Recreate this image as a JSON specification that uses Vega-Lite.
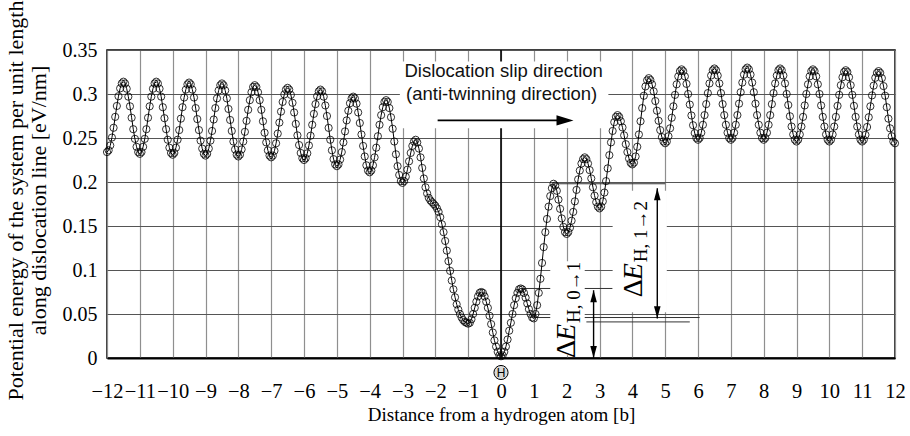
{
  "$schema": "https://vega.github.io/schema/vega-lite/v6.json",
  "width": 788,
  "height": 308,
  "autosize": "none",
  "padding": {"left": 107, "top": 50, "right": 15, "bottom": 78},
  "config": {
    "view": {"stroke": "black", "strokeWidth": 1.5},
    "axis": {"labelFont": "Liberation Serif", "titleFont": "Liberation Serif", "labelColor": "black", "titleColor": "black", "titleFontWeight": "normal"}
  },
  "datasets": {
    "curve": [
      {"x":-12,"y":0.234},{"x":-11.95,"y":0.236},{"x":-11.9,"y":0.2416},{"x":-11.85,"y":0.2505},{"x":-11.8,"y":0.2616},{"x":-11.75,"y":0.274},{"x":-11.7,"y":0.2864},{"x":-11.65,"y":0.2975},{"x":-11.6,"y":0.3064},{"x":-11.55,"y":0.312},
      {"x":-11.5,"y":0.314},{"x":-11.45,"y":0.312},{"x":-11.4,"y":0.306},{"x":-11.35,"y":0.297},{"x":-11.3,"y":0.286},{"x":-11.25,"y":0.273},{"x":-11.2,"y":0.26},{"x":-11.15,"y":0.249},{"x":-11.1,"y":0.24},{"x":-11.05,"y":0.234},
      {"x":-11,"y":0.232},{"x":-10.95,"y":0.234},{"x":-10.9,"y":0.24},{"x":-10.85,"y":0.249},{"x":-10.8,"y":0.26},{"x":-10.75,"y":0.273},{"x":-10.7,"y":0.286},{"x":-10.65,"y":0.297},{"x":-10.6,"y":0.306},{"x":-10.55,"y":0.312},
      {"x":-10.5,"y":0.314},{"x":-10.45,"y":0.312},{"x":-10.4,"y":0.306},{"x":-10.35,"y":0.297},{"x":-10.3,"y":0.285},{"x":-10.25,"y":0.2725},{"x":-10.2,"y":0.26},{"x":-10.15,"y":0.248},{"x":-10.1,"y":0.239},{"x":-10.05,"y":0.233},
      {"x":-10,"y":0.231},{"x":-9.95,"y":0.233},{"x":-9.9,"y":0.239},{"x":-9.85,"y":0.248},{"x":-9.8,"y":0.259},{"x":-9.75,"y":0.272},{"x":-9.7,"y":0.285},{"x":-9.65,"y":0.296},{"x":-9.6,"y":0.305},{"x":-9.55,"y":0.311},
      {"x":-9.5,"y":0.313},{"x":-9.45,"y":0.311},{"x":-9.4,"y":0.305},{"x":-9.35,"y":0.296},{"x":-9.3,"y":0.284},{"x":-9.25,"y":0.2715},{"x":-9.2,"y":0.259},{"x":-9.15,"y":0.247},{"x":-9.1,"y":0.238},{"x":-9.05,"y":0.232},
      {"x":-9,"y":0.23},{"x":-8.95,"y":0.232},{"x":-8.9,"y":0.238},{"x":-8.85,"y":0.247},{"x":-8.8,"y":0.258},{"x":-8.75,"y":0.271},{"x":-8.7,"y":0.284},{"x":-8.65,"y":0.295},{"x":-8.6,"y":0.304},{"x":-8.55,"y":0.31},
      {"x":-8.5,"y":0.312},{"x":-8.45,"y":0.31},{"x":-8.4,"y":0.304},{"x":-8.35,"y":0.295},{"x":-8.3,"y":0.283},{"x":-8.25,"y":0.2705},{"x":-8.2,"y":0.258},{"x":-8.15,"y":0.246},{"x":-8.1,"y":0.237},{"x":-8.05,"y":0.231},
      {"x":-8,"y":0.229},{"x":-7.95,"y":0.231},{"x":-7.9,"y":0.237},{"x":-7.85,"y":0.246},{"x":-7.8,"y":0.257},{"x":-7.75,"y":0.2695},{"x":-7.7,"y":0.282},{"x":-7.65,"y":0.293},{"x":-7.6,"y":0.302},{"x":-7.55,"y":0.308},
      {"x":-7.5,"y":0.31},{"x":-7.45,"y":0.308},{"x":-7.4,"y":0.302},{"x":-7.35,"y":0.293},{"x":-7.3,"y":0.282},{"x":-7.25,"y":0.269},{"x":-7.2,"y":0.256},{"x":-7.15,"y":0.245},{"x":-7.1,"y":0.236},{"x":-7.05,"y":0.23},
      {"x":-7,"y":0.228},{"x":-6.95,"y":0.23},{"x":-6.9,"y":0.2355},{"x":-6.85,"y":0.244},{"x":-6.8,"y":0.255},{"x":-6.75,"y":0.2675},{"x":-6.7,"y":0.28},{"x":-6.65,"y":0.291},{"x":-6.6,"y":0.2995},{"x":-6.55,"y":0.305},
      {"x":-6.5,"y":0.307},{"x":-6.45,"y":0.305},{"x":-6.4,"y":0.299},{"x":-6.35,"y":0.29},{"x":-6.3,"y":0.279},{"x":-6.25,"y":0.266},{"x":-6.2,"y":0.253},{"x":-6.15,"y":0.242},{"x":-6.1,"y":0.233},{"x":-6.05,"y":0.227},
      {"x":-6,"y":0.225},{"x":-5.95,"y":0.227},{"x":-5.9,"y":0.2326},{"x":-5.85,"y":0.2415},{"x":-5.8,"y":0.2526},{"x":-5.75,"y":0.265},{"x":-5.7,"y":0.2774},{"x":-5.65,"y":0.2885},{"x":-5.6,"y":0.2974},{"x":-5.55,"y":0.303},
      {"x":-5.5,"y":0.305},{"x":-5.45,"y":0.303},{"x":-5.4,"y":0.297},{"x":-5.35,"y":0.287},{"x":-5.3,"y":0.275},{"x":-5.25,"y":0.2615},{"x":-5.2,"y":0.248},{"x":-5.15,"y":0.236},{"x":-5.1,"y":0.226},{"x":-5.05,"y":0.22},
      {"x":-5,"y":0.218},{"x":-4.95,"y":0.22},{"x":-4.9,"y":0.2255},{"x":-4.85,"y":0.234},{"x":-4.8,"y":0.245},{"x":-4.75,"y":0.2575},{"x":-4.7,"y":0.27},{"x":-4.65,"y":0.281},{"x":-4.6,"y":0.2895},{"x":-4.55,"y":0.295},
      {"x":-4.5,"y":0.297},{"x":-4.45,"y":0.295},{"x":-4.4,"y":0.289},{"x":-4.35,"y":0.279},{"x":-4.3,"y":0.267},{"x":-4.25,"y":0.254},{"x":-4.2,"y":0.241},{"x":-4.15,"y":0.229},{"x":-4.1,"y":0.219},{"x":-4.05,"y":0.213},
      {"x":-4,"y":0.211},{"x":-3.95,"y":0.213},{"x":-3.9,"y":0.219},{"x":-3.85,"y":0.228},{"x":-3.8,"y":0.239},{"x":-3.75,"y":0.252},{"x":-3.7,"y":0.265},{"x":-3.65,"y":0.276},{"x":-3.6,"y":0.285},{"x":-3.55,"y":0.291},
      {"x":-3.5,"y":0.293},{"x":-3.45,"y":0.291},{"x":-3.4,"y":0.284},{"x":-3.35,"y":0.2736},{"x":-3.3,"y":0.2605},{"x":-3.25,"y":0.246},{"x":-3.2,"y":0.2315},{"x":-3.15,"y":0.218},{"x":-3.1,"y":0.208},{"x":-3.05,"y":0.201},
      {"x":-3,"y":0.199},{"x":-2.95,"y":0.201},{"x":-2.9,"y":0.206},{"x":-2.85,"y":0.214},{"x":-2.8,"y":0.2235},{"x":-2.75,"y":0.233},{"x":-2.7,"y":0.241},{"x":-2.65,"y":0.246},{"x":-2.6,"y":0.248},{"x":-2.55,"y":0.245},
      {"x":-2.5,"y":0.238},{"x":-2.45,"y":0.228},{"x":-2.4,"y":0.216},{"x":-2.35,"y":0.204},{"x":-2.3,"y":0.194},{"x":-2.25,"y":0.187},{"x":-2.2,"y":0.182},{"x":-2.15,"y":0.179},{"x":-2.1,"y":0.177},{"x":-2.05,"y":0.175},
      {"x":-2,"y":0.173},{"x":-1.95,"y":0.17},{"x":-1.9,"y":0.166},{"x":-1.85,"y":0.16},{"x":-1.8,"y":0.152},{"x":-1.75,"y":0.143},{"x":-1.7,"y":0.133},{"x":-1.65,"y":0.122},{"x":-1.6,"y":0.11},{"x":-1.55,"y":0.099},
      {"x":-1.5,"y":0.088},{"x":-1.45,"y":0.078},{"x":-1.4,"y":0.069},{"x":-1.35,"y":0.061},{"x":-1.3,"y":0.055},{"x":-1.25,"y":0.05},{"x":-1.2,"y":0.046},{"x":-1.15,"y":0.043},{"x":-1.1,"y":0.041},{"x":-1.05,"y":0.04},
      {"x":-1,"y":0.039},{"x":-0.95,"y":0.04},{"x":-0.9,"y":0.044},{"x":-0.85,"y":0.05},{"x":-0.8,"y":0.057},{"x":-0.75,"y":0.064},{"x":-0.7,"y":0.07},{"x":-0.65,"y":0.074},{"x":-0.6,"y":0.075},{"x":-0.55,"y":0.074},
      {"x":-0.5,"y":0.07},{"x":-0.45,"y":0.064},{"x":-0.4,"y":0.057},{"x":-0.35,"y":0.048},{"x":-0.3,"y":0.0385},{"x":-0.25,"y":0.029},{"x":-0.2,"y":0.02},{"x":-0.15,"y":0.013},{"x":-0.1,"y":0.007},{"x":-0.05,"y":0.003},
      {"x":0,"y":0.002},{"x":0.05,"y":0.003},{"x":0.1,"y":0.007},{"x":0.15,"y":0.013},{"x":0.2,"y":0.021},{"x":0.25,"y":0.031},{"x":0.3,"y":0.04},{"x":0.35,"y":0.05},{"x":0.4,"y":0.06},{"x":0.45,"y":0.068},
      {"x":0.5,"y":0.074},{"x":0.55,"y":0.078},{"x":0.6,"y":0.079},{"x":0.65,"y":0.078},{"x":0.7,"y":0.074},{"x":0.75,"y":0.0685},{"x":0.8,"y":0.062},{"x":0.85,"y":0.0555},{"x":0.9,"y":0.05},{"x":0.95,"y":0.046},
      {"x":1,"y":0.045},{"x":1.05,"y":0.05},{"x":1.1,"y":0.06},{"x":1.15,"y":0.074},{"x":1.2,"y":0.09},{"x":1.25,"y":0.108},{"x":1.3,"y":0.126},{"x":1.35,"y":0.143},{"x":1.4,"y":0.158},{"x":1.45,"y":0.172},
      {"x":1.5,"y":0.184},{"x":1.55,"y":0.193},{"x":1.6,"y":0.198},{"x":1.65,"y":0.196},{"x":1.7,"y":0.19},{"x":1.75,"y":0.18},{"x":1.8,"y":0.1695},{"x":1.85,"y":0.1586},{"x":1.9,"y":0.149},{"x":1.95,"y":0.143},
      {"x":2,"y":0.141},{"x":2.05,"y":0.143},{"x":2.1,"y":0.148},{"x":2.15,"y":0.156},{"x":2.2,"y":0.166},{"x":2.25,"y":0.178},{"x":2.3,"y":0.191},{"x":2.35,"y":0.203},{"x":2.4,"y":0.213},{"x":2.45,"y":0.221},
      {"x":2.5,"y":0.226},{"x":2.55,"y":0.228},{"x":2.6,"y":0.226},{"x":2.65,"y":0.221},{"x":2.7,"y":0.2135},{"x":2.75,"y":0.204},{"x":2.8,"y":0.194},{"x":2.85,"y":0.1845},{"x":2.9,"y":0.177},{"x":2.95,"y":0.172},
      {"x":3,"y":0.17},{"x":3.05,"y":0.172},{"x":3.1,"y":0.178},{"x":3.15,"y":0.188},{"x":3.2,"y":0.201},{"x":3.25,"y":0.2155},{"x":3.3,"y":0.2305},{"x":3.35,"y":0.245},{"x":3.4,"y":0.258},{"x":3.45,"y":0.268},
      {"x":3.5,"y":0.274},{"x":3.55,"y":0.276},{"x":3.6,"y":0.274},{"x":3.65,"y":0.269},{"x":3.7,"y":0.262},{"x":3.75,"y":0.253},{"x":3.8,"y":0.243},{"x":3.85,"y":0.234},{"x":3.9,"y":0.2266},{"x":3.95,"y":0.2217},
      {"x":4,"y":0.22},{"x":4.05,"y":0.222},{"x":4.1,"y":0.229},{"x":4.15,"y":0.24},{"x":4.2,"y":0.254},{"x":4.25,"y":0.269},{"x":4.3,"y":0.284},{"x":4.35,"y":0.298},{"x":4.4,"y":0.3086},{"x":4.45,"y":0.3156},
      {"x":4.5,"y":0.318},{"x":4.55,"y":0.316},{"x":4.6,"y":0.311},{"x":4.65,"y":0.303},{"x":4.7,"y":0.292},{"x":4.75,"y":0.281},{"x":4.8,"y":0.2696},{"x":4.85,"y":0.259},{"x":4.9,"y":0.251},{"x":4.95,"y":0.246},
      {"x":5,"y":0.244},{"x":5.05,"y":0.246},{"x":5.1,"y":0.252},{"x":5.15,"y":0.261},{"x":5.2,"y":0.273},{"x":5.25,"y":0.286},{"x":5.3,"y":0.299},{"x":5.35,"y":0.311},{"x":5.4,"y":0.32},{"x":5.45,"y":0.326},
      {"x":5.5,"y":0.328},{"x":5.55,"y":0.326},{"x":5.6,"y":0.32},{"x":5.65,"y":0.3115},{"x":5.7,"y":0.3},{"x":5.75,"y":0.288},{"x":5.8,"y":0.2756},{"x":5.85,"y":0.2645},{"x":5.9,"y":0.2556},{"x":5.95,"y":0.25},
      {"x":6,"y":0.248},{"x":6.05,"y":0.25},{"x":6.1,"y":0.256},{"x":6.15,"y":0.265},{"x":6.2,"y":0.276},{"x":6.25,"y":0.2885},{"x":6.3,"y":0.301},{"x":6.35,"y":0.312},{"x":6.4,"y":0.321},{"x":6.45,"y":0.327},
      {"x":6.5,"y":0.329},{"x":6.55,"y":0.327},{"x":6.6,"y":0.321},{"x":6.65,"y":0.312},{"x":6.7,"y":0.301},{"x":6.75,"y":0.2885},{"x":6.8,"y":0.276},{"x":6.85,"y":0.265},{"x":6.9,"y":0.256},{"x":6.95,"y":0.25},
      {"x":7,"y":0.248},{"x":7.05,"y":0.25},{"x":7.1,"y":0.256},{"x":7.15,"y":0.265},{"x":7.2,"y":0.276},{"x":7.25,"y":0.289},{"x":7.3,"y":0.302},{"x":7.35,"y":0.313},{"x":7.4,"y":0.322},{"x":7.45,"y":0.328},
      {"x":7.5,"y":0.33},{"x":7.55,"y":0.328},{"x":7.6,"y":0.322},{"x":7.65,"y":0.313},{"x":7.7,"y":0.302},{"x":7.75,"y":0.289},{"x":7.8,"y":0.276},{"x":7.85,"y":0.265},{"x":7.9,"y":0.256},{"x":7.95,"y":0.25},
      {"x":8,"y":0.248},{"x":8.05,"y":0.25},{"x":8.1,"y":0.256},{"x":8.15,"y":0.265},{"x":8.2,"y":0.276},{"x":8.25,"y":0.2885},{"x":8.3,"y":0.301},{"x":8.35,"y":0.312},{"x":8.4,"y":0.321},{"x":8.45,"y":0.327},
      {"x":8.5,"y":0.329},{"x":8.55,"y":0.327},{"x":8.6,"y":0.321},{"x":8.65,"y":0.312},{"x":8.7,"y":0.3},{"x":8.75,"y":0.2875},{"x":8.8,"y":0.2747},{"x":8.85,"y":0.263},{"x":8.9,"y":0.254},{"x":8.95,"y":0.248},
      {"x":9,"y":0.246},{"x":9.05,"y":0.248},{"x":9.1,"y":0.254},{"x":9.15,"y":0.263},{"x":9.2,"y":0.274},{"x":9.25,"y":0.287},{"x":9.3,"y":0.3},{"x":9.35,"y":0.311},{"x":9.4,"y":0.32},{"x":9.45,"y":0.326},
      {"x":9.5,"y":0.328},{"x":9.55,"y":0.326},{"x":9.6,"y":0.32},{"x":9.65,"y":0.311},{"x":9.7,"y":0.3},{"x":9.75,"y":0.287},{"x":9.8,"y":0.274},{"x":9.85,"y":0.263},{"x":9.9,"y":0.254},{"x":9.95,"y":0.248},
      {"x":10,"y":0.246},{"x":10.05,"y":0.248},{"x":10.1,"y":0.254},{"x":10.15,"y":0.263},{"x":10.2,"y":0.274},{"x":10.25,"y":0.2865},{"x":10.3,"y":0.299},{"x":10.35,"y":0.31},{"x":10.4,"y":0.319},{"x":10.45,"y":0.325},
      {"x":10.5,"y":0.327},{"x":10.55,"y":0.325},{"x":10.6,"y":0.319},{"x":10.65,"y":0.31},{"x":10.7,"y":0.299},{"x":10.75,"y":0.2865},{"x":10.8,"y":0.274},{"x":10.85,"y":0.263},{"x":10.9,"y":0.254},{"x":10.95,"y":0.248},
      {"x":11,"y":0.246},{"x":11.05,"y":0.248},{"x":11.1,"y":0.2536},{"x":11.15,"y":0.2625},{"x":11.2,"y":0.2736},{"x":11.25,"y":0.286},{"x":11.3,"y":0.2984},{"x":11.35,"y":0.3095},{"x":11.4,"y":0.3184},{"x":11.45,"y":0.324},
      {"x":11.5,"y":0.326},{"x":11.55,"y":0.324},{"x":11.6,"y":0.318},{"x":11.65,"y":0.309},{"x":11.7,"y":0.298},{"x":11.75,"y":0.285},{"x":11.8,"y":0.272},{"x":11.85,"y":0.261},{"x":11.9,"y":0.252},{"x":11.95,"y":0.246},
      {"x":12,"y":0.244}
    ],
    "zero": [{"x": 0, "y": 0, "y2": 0.35}],
    "hlines": [
      {"x": 0.62, "x2": 3.4, "y": 0.079},
      {"x": 1.6, "x2": 5.0, "y": 0.198},
      {"x": 1.05, "x2": 6.05, "y": 0.046},
      {"x": 2.6, "x2": 5.75, "y": 0.041}
    ],
    "boxes": [
      {"x": -3.08, "x2": 3.27, "y": 0.261, "y2": 0.337},
      {"x": 1.5, "x2": 2.55, "y": 0.003, "y2": 0.11},
      {"x": 3.4, "x2": 5.05, "y": 0.052, "y2": 0.19}
    ],
    "slip": [{"x": -1.93, "x2": 1.95, "y": 0.27}],
    "vArrows": [{"x": 2.82, "y": 0.0, "y2": 0.077}, {"x": 4.76, "y": 0.045, "y2": 0.193}],
    "upHeads": [{"x": 2.82, "y": 0.0702}, {"x": 4.76, "y": 0.186}],
    "downHeads": [{"x": 2.82, "y": 0.0068}, {"x": 4.76, "y": 0.052}],
    "rightHeads": [{"x": 1.95, "y": 0.27}],
    "notes": [
      {"x": 0.08, "y": 0.326, "t": "Dislocation slip direction"},
      {"x": 0.02, "y": 0.3, "t": "(anti-twinning direction)"}
    ],
    "dE": [
      {"x": 2.24, "y": 0.0, "d": "Δ", "e": "E", "sub": "H, 0→1"},
      {"x": 4.28, "y": 0.069, "d": "Δ", "e": "E", "sub": "H, 1→2"}
    ],
    "hmark": [{"x": 0, "y": -0.0165, "t": "H"}]
  },
  "encoding": {
    "x": {
      "field": "x", "type": "quantitative",
      "scale": {"domain": [-12, 12], "nice": false, "zero": false},
      "axis": {
        "values": [-12,-11,-10,-9,-8,-7,-6,-5,-4,-3,-2,-1,0,1,2,3,4,5,6,7,8,9,10,11,12],
        "format": "d", "labelFontSize": 20.5, "labelPadding": 23, "ticks": false,
        "labelOverlap": false, "labelBound": false, "labelFlush": false,
        "domain": true, "domainColor": "black", "domainWidth": 2,
        "grid": true, "gridColor": "#8f8f8f", "gridWidth": 1.2, "gridOpacity": 1,
        "title": "Distance from a hydrogen atom [b]", "titleFontSize": 19,
        "titleY": 47, "titleBaseline": "top"
      }
    },
    "y": {
      "field": "y", "type": "quantitative",
      "scale": {"domain": [0, 0.35], "nice": false, "zero": false},
      "axis": {
        "values": [0, 0.05, 0.1, 0.15, 0.2, 0.25, 0.3, 0.35],
        "format": "~g", "labelFontSize": 20, "labelPadding": 10, "ticks": false,
        "domain": false, "labelOverlap": false, "labelBound": false, "labelFlush": false,
        "grid": true, "gridColor": "#555555", "gridWidth": 1, "gridOpacity": 1,
        "title": ["Potential energy of the system per unit length", "along dislocation line [eV/nm]"],
        "titleFontSize": 22, "titleLineHeight": 23, "titleAngle": 270,
        "titleX": -102, "titleY": 150, "titleBaseline": "top", "titleAlign": "center"
      }
    }
  },
  "layer": [
    {
      "data": {"name": "zero"},
      "mark": {"type": "rule", "color": "black", "strokeWidth": 1.6},
      "encoding": {"y2": {"field": "y2"}}
    },
    {
      "data": {"name": "hlines"},
      "mark": {"type": "rule", "color": "#333333", "strokeWidth": 1},
      "encoding": {"x2": {"field": "x2"}}
    },
    {
      "data": {"name": "boxes"},
      "mark": {"type": "rect", "color": "white", "opacity": 1},
      "encoding": {"x2": {"field": "x2"}, "y2": {"field": "y2"}}
    },
    {
      "data": {"name": "curve"},
      "mark": {"type": "line", "color": "black", "strokeWidth": 1, "point": {"filled": false, "color": "black", "size": 52, "strokeWidth": 0.8}}
    },
    {
      "data": {"name": "slip"},
      "mark": {"type": "rule", "color": "black", "strokeWidth": 1.6},
      "encoding": {"x2": {"field": "x2"}}
    },
    {
      "data": {"name": "rightHeads"},
      "mark": {"type": "point", "shape": "M1,0L-1,-0.6L-1,0.6Z", "size": 289, "filled": true, "color": "black", "opacity": 1}
    },
    {
      "data": {"name": "vArrows"},
      "mark": {"type": "rule", "color": "black", "strokeWidth": 1.4},
      "encoding": {"y2": {"field": "y2"}}
    },
    {
      "data": {"name": "upHeads"},
      "mark": {"type": "point", "shape": "M0,-1L0.55,1L-0.55,1Z", "size": 144, "filled": true, "color": "black", "opacity": 1}
    },
    {
      "data": {"name": "downHeads"},
      "mark": {"type": "point", "shape": "M0,1L0.55,-1L-0.55,-1Z", "size": 144, "filled": true, "color": "black", "opacity": 1}
    },
    {
      "data": {"name": "notes"},
      "mark": {"type": "text", "font": "Liberation Sans", "fontSize": 18.5, "align": "center", "baseline": "middle", "color": "#111111"},
      "encoding": {"text": {"field": "t"}}
    },
    {
      "data": {"name": "dE"},
      "mark": {"type": "text", "font": "Liberation Serif", "fontSize": 28, "angle": 270, "align": "left", "baseline": "alphabetic", "color": "black"},
      "encoding": {"text": {"field": "d"}}
    },
    {
      "data": {"name": "dE"},
      "mark": {"type": "text", "font": "Liberation Serif", "fontSize": 28, "fontStyle": "italic", "angle": 270, "align": "left", "baseline": "alphabetic", "dx": 17, "color": "black"},
      "encoding": {"text": {"field": "e"}}
    },
    {
      "data": {"name": "dE"},
      "mark": {"type": "text", "font": "Liberation Serif", "fontSize": 19, "angle": 270, "align": "left", "baseline": "alphabetic", "dx": 35, "dy": 5, "color": "black"},
      "encoding": {"text": {"field": "sub"}}
    },
    {
      "data": {"name": "hmark"},
      "mark": {"type": "point", "shape": "circle", "size": 200, "filled": true, "fill": "#d9d9d9", "stroke": "black", "strokeWidth": 1, "opacity": 1}
    },
    {
      "data": {"name": "hmark"},
      "mark": {"type": "text", "font": "Liberation Sans", "fontSize": 12, "align": "center", "baseline": "middle", "color": "black"},
      "encoding": {"text": {"field": "t"}}
    }
  ]
}
